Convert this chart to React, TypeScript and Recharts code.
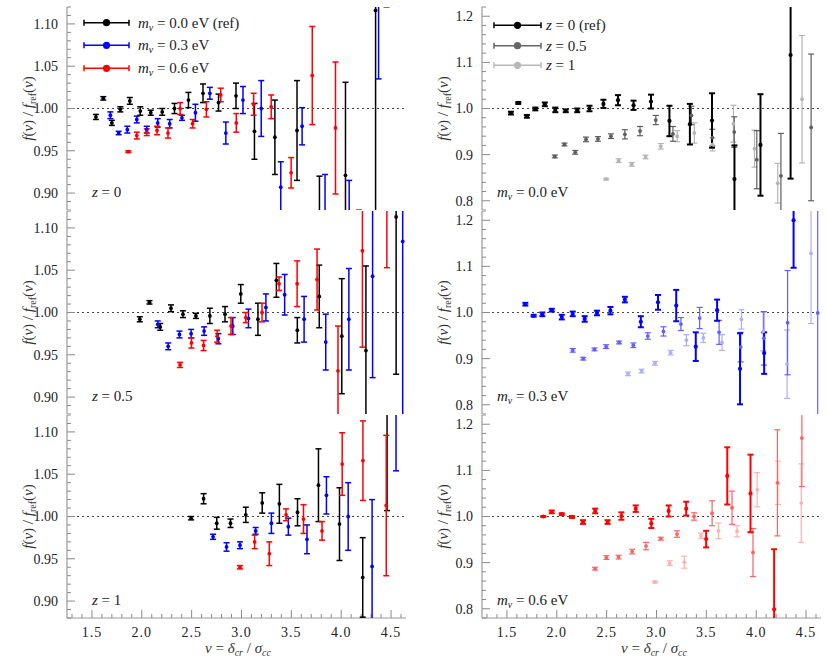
import React from 'react';
import { ScatterChart, Scatter, XAxis, YAxis, ErrorBar, ReferenceLine } from 'recharts';

// ---- nu = delta_cr / sigma_cc positions for each (m_nu, z) ----
const NU_M00_Z00 = [1.54, 1.614, 1.70, 1.785, 1.88, 1.985, 2.09, 2.205, 2.328, 2.468, 2.614, 2.77, 2.945, 3.13, 3.335, 3.557, 3.782, 4.043, 4.345];
const NU_M00_Z05 = [1.98, 2.077, 2.185, 2.293, 2.413, 2.543, 2.683, 2.835, 2.993, 3.165, 3.35, 3.56, 3.78, 4.006, 4.248, 4.551];
const NU_M00_Z10 = [2.495, 2.62, 2.752, 2.89, 3.043, 3.208, 3.38, 3.562, 3.772, 3.983, 4.216, 4.46];
const NU_M03_Z00 = [1.685, 1.768, 1.855, 1.95, 2.05, 2.16, 2.28, 2.403, 2.538, 2.683, 2.843, 3.015, 3.198, 3.394, 3.608, 3.838, 4.08, 4.375];
const NU_M03_Z05 = [2.16, 2.265, 2.378, 2.495, 2.625, 2.768, 2.913, 3.07, 3.245, 3.433, 3.628, 3.845, 4.077, 4.315, 4.617];
const NU_M03_Z10 = [2.715, 2.85, 2.985, 3.142, 3.30, 3.47, 3.657, 3.852, 4.07, 4.31, 4.55];
const NU_M06_Z00 = [1.865, 1.95, 2.05, 2.153, 2.263, 2.385, 2.51, 2.648, 2.792, 2.948, 3.122, 3.298, 3.498, 3.71, 3.943, 4.18, 4.455];
const NU_M06_Z05 = [2.384, 2.498, 2.62, 2.756, 2.895, 3.043, 3.206, 3.377, 3.558, 3.758, 3.968, 4.213, 4.458];
const NU_M06_Z10 = [2.985, 3.132, 3.279, 3.447, 3.622, 3.808, 4.01, 4.218, 4.452];

// ---- left column: fixed z, different m_nu ----
const Z00_M00_F = [0.990, 1.012, 0.983, 0.999, 1.009, 0.997, 0.995, 0.996, 1.000, 1.010, 1.018, 1.007, 1.015, 0.973, 0.966, 0.974, 0.847, 0.921, 1.116];
const Z00_M00_E = [0.003, 0.002, 0.003, 0.003, 0.004, 0.005, 0.003, 0.004, 0.006, 0.009, 0.011, 0.010, 0.015, 0.033, 0.044, 0.059, 0.073, 0.110, 0.268];
const Z00_M03_F = [0.992, 0.971, 0.975, 0.987, 0.975, 0.983, 0.982, 0.989, 0.995, 1.018, 0.971, 1.010, 1.000, 0.907, 0.979, 0.860, 0.860, 1.200];
const Z00_M03_E = [0.004, 0.002, 0.004, 0.004, 0.004, 0.005, 0.005, 0.003, 0.010, 0.007, 0.013, 0.016, 0.033, 0.030, 0.022, 0.062, 0.055, 0.165];
const Z00_M06_F = [0.949, 0.968, 0.972, 0.974, 0.971, 1.000, 0.982, 0.999, 1.016, 0.983, 1.005, 1.002, 0.924, 1.039, 0.977, 0.800, 1.200];
const Z00_M06_E = [0.001, 0.004, 0.004, 0.005, 0.006, 0.007, 0.005, 0.009, 0.008, 0.011, 0.013, 0.014, 0.018, 0.058, 0.078, 0.080, 0.080];

const Z05_M00_F = [0.992, 1.012, 0.983, 1.005, 0.998, 0.996, 0.996, 0.998, 1.022, 0.992, 1.038, 0.979, 1.019, 0.972, 0.955, 1.113];
const Z05_M00_E = [0.003, 0.002, 0.004, 0.004, 0.004, 0.003, 0.009, 0.009, 0.011, 0.019, 0.020, 0.015, 0.037, 0.068, 0.100, 0.186];
const Z05_M03_F = [0.986, 0.960, 0.974, 0.975, 0.978, 0.969, 0.984, 0.993, 1.006, 1.021, 0.992, 0.965, 0.992, 1.043, 1.084];
const Z05_M03_E = [0.004, 0.004, 0.004, 0.005, 0.005, 0.006, 0.010, 0.011, 0.016, 0.024, 0.027, 0.033, 0.060, 0.120, 0.250];
const Z05_M06_F = [0.938, 0.964, 0.961, 0.972, 0.984, 0.994, 1.000, 1.034, 1.034, 1.039, 0.931, 1.073, 1.160];
const Z05_M06_E = [0.003, 0.006, 0.006, 0.007, 0.010, 0.006, 0.011, 0.008, 0.027, 0.036, 0.053, 0.114, 0.107];

const Z10_M00_F = [0.998, 1.021, 0.992, 0.992, 1.002, 1.016, 1.015, 1.005, 1.037, 0.991, 0.928, 1.125];
const Z10_M00_E = [0.002, 0.006, 0.007, 0.005, 0.009, 0.012, 0.023, 0.016, 0.043, 0.043, 0.047, 0.118];
const Z10_M03_F = [0.976, 0.964, 0.966, 0.983, 0.992, 0.988, 0.973, 1.025, 1.000, 0.941, 1.160];
const Z10_M03_E = [0.003, 0.005, 0.004, 0.004, 0.012, 0.010, 0.017, 0.022, 0.040, 0.079, 0.106];
const Z10_M06_F = [0.940, 0.970, 0.956, 1.002, 0.997, 0.983, 1.062, 1.066, 1.013];
const Z10_M06_E = [0.002, 0.008, 0.014, 0.007, 0.017, 0.011, 0.037, 0.047, 0.083];

// ---- right column: fixed m_nu, different z ----
const M00_Z05_F = [0.896, 0.922, 0.905, 0.933, 0.934, 0.940, 0.944, 0.951, 0.975, 0.945, 0.985, 0.937, 0.949, 0.889, 0.854, 0.959];
const M00_Z05_E = [0.003, 0.003, 0.004, 0.005, 0.005, 0.005, 0.010, 0.010, 0.010, 0.016, 0.020, 0.018, 0.033, 0.063, 0.092, 0.159];
const M00_Z10_F = [0.847, 0.887, 0.879, 0.895, 0.918, 0.940, 0.947, 0.922, 0.967, 0.913, 0.838, 1.020];
const M00_Z10_E = [0.002, 0.004, 0.004, 0.004, 0.006, 0.012, 0.022, 0.014, 0.040, 0.040, 0.043, 0.138];

const M03_Z00_F = [1.018, 0.993, 0.996, 1.005, 0.990, 0.997, 0.986, 0.999, 1.004, 1.028, 0.980, 1.022, 1.015, 0.926, 1.005, 0.878, 0.912, 1.200];
const M03_Z00_E = [0.003, 0.002, 0.004, 0.003, 0.005, 0.005, 0.006, 0.005, 0.008, 0.006, 0.012, 0.016, 0.034, 0.031, 0.023, 0.077, 0.045, 0.103];
const M03_Z05_F = [0.918, 0.900, 0.920, 0.926, 0.935, 0.929, 0.949, 0.959, 0.975, 0.988, 0.957, 0.925, 0.944, 0.978, 0.999];
const M03_Z05_E = [0.004, 0.003, 0.003, 0.004, 0.003, 0.005, 0.007, 0.010, 0.014, 0.023, 0.026, 0.032, 0.058, 0.113, 0.300];
const M03_Z10_F = [0.867, 0.873, 0.890, 0.913, 0.940, 0.945, 0.935, 0.985, 0.959, 0.888, 1.128];
const M03_Z10_E = [0.004, 0.004, 0.004, 0.005, 0.012, 0.010, 0.017, 0.021, 0.042, 0.074, 0.152];

const M06_Z00_F = [1.000, 1.010, 1.005, 0.999, 0.988, 1.012, 0.988, 1.001, 1.017, 0.985, 1.012, 1.017, 0.951, 1.088, 1.050, 0.799, 1.330];
const M06_Z00_E = [0.001, 0.003, 0.002, 0.002, 0.004, 0.005, 0.004, 0.008, 0.007, 0.010, 0.012, 0.015, 0.018, 0.062, 0.084, 0.130, 0.090];
const M06_Z05_F = [0.887, 0.911, 0.912, 0.924, 0.936, 0.952, 0.962, 1.000, 1.007, 1.019, 0.922, 1.073, 1.170];
const M06_Z05_E = [0.003, 0.004, 0.004, 0.005, 0.008, 0.003, 0.007, 0.008, 0.027, 0.036, 0.052, 0.115, 0.105];
const M06_Z10_F = [0.858, 0.899, 0.901, 0.958, 0.969, 0.968, 1.058, 1.073, 1.029];
const M06_Z10_E = [0.002, 0.005, 0.013, 0.006, 0.017, 0.012, 0.037, 0.047, 0.085];

// ---- ticks ----
const X_DOMAIN = [1.25, 4.65];
const X_MAJOR = [1.5, 2.0, 2.5, 3.0, 3.5, 4.0, 4.5];
const X_MINOR_STEP = 0.1;
const YL_DOMAIN = [0.88, 1.12];
const YL_MAJOR = [0.90, 0.95, 1.00, 1.05, 1.10];
const YL_MINOR_STEP = 0.01;
const YR_DOMAIN = [0.78, 1.22];
const YR_MAJOR = [0.8, 0.9, 1.0, 1.1, 1.2];
const YR_MINOR_STEP = 0.02;

const Z_LABELS = ['0', '0.5', '1'];
const M_LABELS = ['0.0', '0.3', '0.6'];

function stepTicks(domain: number[], step: number) {
  const out: number[] = [];
  const start = Math.ceil(domain[0] / step - 1e-9);
  const end = Math.floor(domain[1] / step + 1e-9);
  for (let k = start; k <= end; k++) out.push(Math.round(k * step * 1000) / 1000);
  return out;
}
const X_TICKS = stepTicks(X_DOMAIN, X_MINOR_STEP);
const YL_TICKS = stepTicks(YL_DOMAIN, YL_MINOR_STEP);
const YR_TICKS = stepTicks(YR_DOMAIN, YR_MINOR_STEP);

const FRAME = '#9a9a9a';
const TICK = '#8a8a8a';
const FONT = "'Liberation Serif', 'Times New Roman', Times, serif";
const FS = { fontFamily: FONT };
const MAJOR_LEN = 8;
const MINOR_LEN = 4;

const isMajor = (v: number, majors: number[]) => majors.some((m) => Math.abs(m - v) < 1e-6);

const mk = (nu: number[], f: number[], e: number[]) => nu.map((n, i) => ({ nu: n, f: f[i], e: e[i] }));

type Series = { name: string; data: { nu: number; f: number; e: number }[]; color: string; sw: number; r: number };

const BLACK = ['#000000', '#5e5e5e', '#b4b4b4'];
const BLUE = ['#0000ff', '#6060ff', '#aeaeff'];
const RED = ['#ff0000', '#ff6262', '#ffb0b0'];

const LEFT_PANELS: Series[][] = [
  [
    { name: 'm0', data: mk(NU_M00_Z00, Z00_M00_F, Z00_M00_E), color: BLACK[0], sw: 1.5, r: 1.9 },
    { name: 'm3', data: mk(NU_M03_Z00, Z00_M03_F, Z00_M03_E), color: BLUE[0], sw: 1.5, r: 1.9 },
    { name: 'm6', data: mk(NU_M06_Z00, Z00_M06_F, Z00_M06_E), color: RED[0], sw: 1.5, r: 1.9 },
  ],
  [
    { name: 'm0', data: mk(NU_M00_Z05, Z05_M00_F, Z05_M00_E), color: BLACK[0], sw: 1.5, r: 1.9 },
    { name: 'm3', data: mk(NU_M03_Z05, Z05_M03_F, Z05_M03_E), color: BLUE[0], sw: 1.5, r: 1.9 },
    { name: 'm6', data: mk(NU_M06_Z05, Z05_M06_F, Z05_M06_E), color: RED[0], sw: 1.5, r: 1.9 },
  ],
  [
    { name: 'm0', data: mk(NU_M00_Z10, Z10_M00_F, Z10_M00_E), color: BLACK[0], sw: 1.5, r: 1.9 },
    { name: 'm3', data: mk(NU_M03_Z10, Z10_M03_F, Z10_M03_E), color: BLUE[0], sw: 1.5, r: 1.9 },
    { name: 'm6', data: mk(NU_M06_Z10, Z10_M06_F, Z10_M06_E), color: RED[0], sw: 1.5, r: 1.9 },
  ],
];

const RIGHT_PANELS: Series[][] = [
  [
    { name: 'z1', data: mk(NU_M00_Z10, M00_Z10_F, M00_Z10_E), color: BLACK[2], sw: 1.2, r: 1.9 },
    { name: 'z05', data: mk(NU_M00_Z05, M00_Z05_F, M00_Z05_E), color: BLACK[1], sw: 1.2, r: 1.9 },
    { name: 'z0', data: mk(NU_M00_Z00, Z00_M00_F, Z00_M00_E), color: BLACK[0], sw: 2, r: 2.1 },
  ],
  [
    { name: 'z1', data: mk(NU_M03_Z10, M03_Z10_F, M03_Z10_E), color: BLUE[2], sw: 1.2, r: 1.9 },
    { name: 'z05', data: mk(NU_M03_Z05, M03_Z05_F, M03_Z05_E), color: BLUE[1], sw: 1.2, r: 1.9 },
    { name: 'z0', data: mk(NU_M03_Z00, M03_Z00_F, M03_Z00_E), color: BLUE[0], sw: 2, r: 2.1 },
  ],
  [
    { name: 'z1', data: mk(NU_M06_Z10, M06_Z10_F, M06_Z10_E), color: RED[2], sw: 1.2, r: 1.9 },
    { name: 'z05', data: mk(NU_M06_Z05, M06_Z05_F, M06_Z05_E), color: RED[1], sw: 1.2, r: 1.9 },
    { name: 'z0', data: mk(NU_M06_Z00, M06_Z00_F, M06_Z00_E), color: RED[0], sw: 2, r: 2.1 },
  ],
];

const PLOT_TOP = 7;
const PLOT_H = 203;
const ROW_STEP = 204;
const Y_AXIS_W = 67;

function bottomTick(showLabel: boolean) {
  return (p: any) => {
    const v = p.payload.value;
    const major = isMajor(v, X_MAJOR);
    return (
      <g>
        <line x1={p.x} x2={p.x} y1={p.y} y2={p.y - (major ? MAJOR_LEN : MINOR_LEN)} stroke={TICK} strokeWidth={1} />
        {showLabel && major ? (
          <text x={p.x} y={p.y + 19} textAnchor="middle" style={FS} fontSize={14} fill="#222" letterSpacing={1}>
            {v.toFixed(1)}
          </text>
        ) : null}
      </g>
    );
  };
}

const topTick = (p: any) => {
  const major = isMajor(p.payload.value, X_MAJOR);
  return <line x1={p.x} x2={p.x} y1={p.y} y2={p.y + (major ? MAJOR_LEN : MINOR_LEN)} stroke={TICK} strokeWidth={1} />;
};

function leftTick(majors: number[], digits: number) {
  return (p: any) => {
    const v = p.payload.value;
    const major = isMajor(v, majors);
    return (
      <g>
        <line x1={p.x} x2={p.x + (major ? MAJOR_LEN : MINOR_LEN)} y1={p.y} y2={p.y} stroke={TICK} strokeWidth={1} />
        {major ? (
          <text x={p.x - 9} y={p.y} dy="0.35em" textAnchor="end" style={FS} fontSize={14} fill="#222">
            {v.toFixed(digits)}
          </text>
        ) : null}
      </g>
    );
  };
}

function rightTick(majors: number[]) {
  return (p: any) => {
    const major = isMajor(p.payload.value, majors);
    return <line x1={p.x} x2={p.x - (major ? MAJOR_LEN : MINOR_LEN)} y1={p.y} y2={p.y} stroke={TICK} strokeWidth={1} />;
  };
}

function Panel(props: { row: number; col: number; series: Series[] }) {
  const { row, col, series } = props;
  const isLeft = col === 0;
  const showX = row === 2;
  const width = isLeft ? 415 : 411;
  const marginRight = isLeft ? 9 : 5;
  const xAxisH = showX ? 40 : 0;
  const height = PLOT_TOP + PLOT_H + xAxisH;
  const yDomain = isLeft ? YL_DOMAIN : YR_DOMAIN;
  const yTicks = isLeft ? YL_TICKS : YR_TICKS;
  const yMajor = isLeft ? YL_MAJOR : YR_MAJOR;
  const digits = isLeft ? 2 : 1;
  const left = isLeft ? 0 : 415;
  const top = row * ROW_STEP;
  return (
    <>
      {/* frame, ticks and tick labels */}
      <div style={{ position: 'absolute', left, top, width, height }}>
        <ScatterChart width={width} height={height} margin={{ top: PLOT_TOP, right: marginRight, bottom: 0, left: 0 }}>
          <XAxis xAxisId="b" type="number" dataKey="nu" orientation="bottom" domain={X_DOMAIN} allowDataOverflow
            ticks={X_TICKS} interval={0} height={xAxisH} tickSize={0} tickMargin={0} tickLine={false}
            axisLine={{ stroke: FRAME, strokeWidth: 1.2 }} tick={bottomTick(showX)} />
          <XAxis xAxisId="t" type="number" dataKey="nu" orientation="top" domain={X_DOMAIN} allowDataOverflow
            ticks={X_TICKS} interval={0} height={0} tickSize={0} tickMargin={0} tickLine={false}
            axisLine={{ stroke: FRAME, strokeWidth: 1.2 }} tick={topTick} />
          <YAxis yAxisId="l" type="number" dataKey="f" orientation="left" domain={yDomain} allowDataOverflow
            ticks={yTicks} interval={0} width={Y_AXIS_W} tickSize={0} tickMargin={0} tickLine={false}
            axisLine={{ stroke: FRAME, strokeWidth: 1.2 }} tick={leftTick(yMajor, digits)} />
          <YAxis yAxisId="r" type="number" dataKey="f" orientation="right" domain={yDomain} allowDataOverflow
            ticks={yTicks} interval={0} width={0} tickSize={0} tickMargin={0} tickLine={false}
            axisLine={{ stroke: FRAME, strokeWidth: 1.2 }} tick={rightTick(yMajor)} />
          <ReferenceLine xAxisId="b" yAxisId="l" y={1} stroke="#444" strokeWidth={1.2} strokeDasharray="2 3" />
        </ScatterChart>
      </div>
      {/* data, clipped to the plot area */}
      <div
        style={{
          position: 'absolute', left, top, width, height,
          clipPath: `inset(${PLOT_TOP}px ${marginRight}px ${xAxisH}px ${Y_AXIS_W}px)`,
        }}
      >
        <ScatterChart width={width} height={height} margin={{ top: PLOT_TOP, right: marginRight, bottom: xAxisH, left: Y_AXIS_W }}>
          <XAxis xAxisId="b" type="number" dataKey="nu" domain={X_DOMAIN} allowDataOverflow hide />
          <YAxis yAxisId="l" type="number" dataKey="f" domain={yDomain} allowDataOverflow hide />
          {series.map((s) => (
            <Scatter
              key={s.name}
              name={s.name}
              xAxisId="b"
              yAxisId="l"
              data={s.data}
              isAnimationActive={false}
              fill={s.color}
              shape={(p: any) => <circle cx={p.cx} cy={p.cy} r={s.r} fill={s.color} />}
            >
              <ErrorBar dataKey="e" direction="y" width={3} stroke={s.color} strokeWidth={s.sw} isAnimationActive={false} />
            </Scatter>
          ))}
        </ScatterChart>
      </div>
    </>
  );
}

function YLabel({ x, y }: { x: number; y: number }) {
  return (
    <text transform={`rotate(-90 ${x} ${y})`} x={x} y={y} textAnchor="middle" style={FS} fontSize={15} fill="#333">
      <tspan fontStyle="italic">f</tspan>(<tspan fontStyle="italic">ν</tspan>) / <tspan fontStyle="italic">f</tspan>
      <tspan fontSize={10} dy={3}>ref</tspan>
      <tspan dy={-3}>(</tspan><tspan fontStyle="italic">ν</tspan>)
    </text>
  );
}

function XLabel({ x, y }: { x: number; y: number }) {
  return (
    <text x={x} y={y} textAnchor="middle" style={FS} fontSize={15} fill="#333">
      <tspan fontStyle="italic">ν</tspan> = <tspan fontStyle="italic">δ</tspan>
      <tspan fontSize={10} dy={3} fontStyle="italic">cr</tspan>
      <tspan dy={-3}> / </tspan><tspan fontStyle="italic">σ</tspan>
      <tspan fontSize={10} dy={3} fontStyle="italic">cc</tspan>
    </text>
  );
}

function MText({ x, y, m, extra }: { x: number; y: number; m: string; extra?: string }) {
  return (
    <text x={x} y={y} style={FS} fontSize={15} fill="#222">
      <tspan fontStyle="italic">m</tspan>
      <tspan fontStyle="italic" fontSize={10} dy={3}>ν</tspan>
      <tspan dy={-3}>{` = ${m} eV${extra || ''}`}</tspan>
    </text>
  );
}

function ZText({ x, y, z, extra }: { x: number; y: number; z: string; extra?: string }) {
  return (
    <text x={x} y={y} style={FS} fontSize={15} fill="#222">
      <tspan fontStyle="italic">z</tspan>
      <tspan>{` = ${z}${extra || ''}`}</tspan>
    </text>
  );
}

function LegendKey({ x1, x2, y, color }: { x1: number; x2: number; y: number; color: string }) {
  return (
    <g>
      <line x1={x1} x2={x2} y1={y} y2={y} stroke={color} strokeWidth={1.5} />
      <line x1={x1} x2={x1} y1={y - 3} y2={y + 3} stroke={color} strokeWidth={1.5} />
      <line x1={x2} x2={x2} y1={y - 3} y2={y + 3} stroke={color} strokeWidth={1.5} />
      <circle cx={(x1 + x2) / 2} cy={y} r={3.6} fill={color} />
    </g>
  );
}

export default function App() {
  const leftRows = [22.7, 45.3, 68.3];
  const rightRows = [25.3, 45.7, 65.3];
  const leftColors = [BLACK[0], BLUE[0], RED[0]];
  const rightColors = [BLACK[0], '#666666', '#b8b8b8'];
  return (
    <div style={{ position: 'absolute', left: 0, top: 0, width: 826, height: 668, background: '#fff', overflow: 'hidden' }}>
      {LEFT_PANELS.map((s, i) => (
        <Panel key={`l${i}`} row={i} col={0} series={s} />
      ))}
      {RIGHT_PANELS.map((s, i) => (
        <Panel key={`r${i}`} row={i} col={1} series={s} />
      ))}
      <svg width={826} height={668} style={{ position: 'absolute', left: 0, top: 0, pointerEvents: 'none' }}>
        {[0, 1, 2].map((i) => (
          <g key={`lab${i}`}>
            <YLabel x={33} y={PLOT_TOP + PLOT_H / 2 + i * ROW_STEP} />
            <YLabel x={448} y={PLOT_TOP + PLOT_H / 2 + i * ROW_STEP} />
            <ZText x={92} y={197 + i * ROW_STEP} z={Z_LABELS[i]} />
            <MText x={497} y={197 + i * ROW_STEP} m={M_LABELS[i]} />
          </g>
        ))}
        <XLabel x={238} y={653} />
        <XLabel x={654} y={653} />
        {M_LABELS.map((m, i) => (
          <g key={`lg${i}`}>
            <LegendKey x1={84} x2={129} y={leftRows[i]} color={leftColors[i]} />
            <MText x={138} y={leftRows[i] + 5} m={m} extra={i === 0 ? ' (ref)' : ''} />
          </g>
        ))}
        {Z_LABELS.map((z, i) => (
          <g key={`rg${i}`}>
            <LegendKey x1={494} x2={541} y={rightRows[i]} color={rightColors[i]} />
            <ZText x={546} y={rightRows[i] + 5} z={z} extra={i === 0 ? ' (ref)' : ''} />
          </g>
        ))}
      </svg>
    </div>
  );
}
